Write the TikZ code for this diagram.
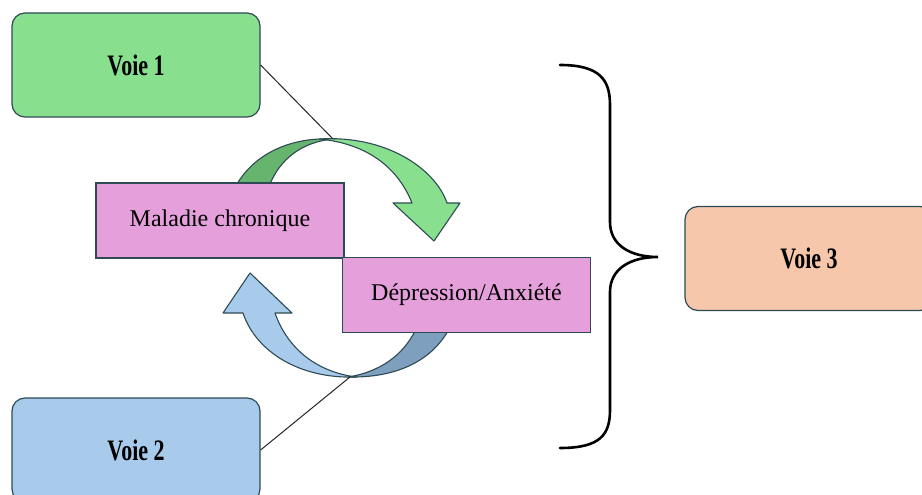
\documentclass[tikz,border=0pt]{standalone}
\usepackage{fontspec}
\setmainfont{Liberation Serif}
\usepackage{graphicx}
\definecolor{edge}{HTML}{2E4A55}
\definecolor{greenbox}{HTML}{88E08F}
\definecolor{greenback}{HTML}{66B46E}
\definecolor{bluebox}{HTML}{A8CBEB}
\definecolor{blueback}{HTML}{7E9FBE}
\definecolor{pinkbox}{HTML}{E5A0DC}
\definecolor{peachbox}{HTML}{F7C7AB}
\tikzset{
  voie/.style={draw=edge, line width=1.2pt, rounded corners=13pt,
    minimum width=248pt, minimum height=104pt, inner sep=0pt,
    font=\fontsize{22}{26}\selectfont\bfseries},
  etat/.style={draw=edge, line width=1.2pt, fill=pinkbox,
    minimum width=248pt, minimum height=75pt, inner sep=0pt,
    font=\fontsize{24}{28}\selectfont},
  ribbon/.style={draw=edge, line width=1.1pt, line join=round},
  link/.style={draw=black!85, line width=1pt}
}
\newcommand{\tall}[1]{\scalebox{1}[1.35]{#1}}
\begin{document}
\begin{tikzpicture}[x=1pt,y=-1pt]
  \clip (0,0) rectangle (922,495);
  \fill[white] (0,0) rectangle (922,495);

  % green curved arrow: back face, then front face with the head
  \path[ribbon, fill=greenback]
    (237,184) .. controls (256,152) and (293,137) .. (333,139)
    .. controls (301,142) and (280,160) .. (270,184) -- cycle;
  \path[ribbon, fill=greenbox]
    (320,139) .. controls (385,135) and (435,168) .. (447,203)
    -- (460,203) -- (434,241) -- (393,203) -- (412,203)
    .. controls (398,168) and (368,144) .. (320,139) -- cycle;
  \coordinate (gtop) at (333,139);

  % blue curved arrow: back face, then front face with the head
  \path[ribbon, fill=blueback]
    (448,331) .. controls (430,362) and (395,378) .. (348,377)
    .. controls (380,372) and (403,355) .. (415,331) -- cycle;
  \path[ribbon, fill=bluebox]
    (356,377) .. controls (300,379) and (256,352) .. (243,313)
    -- (223,313) -- (250,273) -- (292,313) -- (275,313)
    .. controls (288,350) and (318,372) .. (356,377) -- cycle;
  \coordinate (bbot) at (350,377);

  % the two states
  \node[etat] (mal) at (220,220.5) {Maladie chronique};
  \node[etat] (dep) at (466.5,295) {Dépression/Anxiété};

  % the three pathways
  \node[voie, fill=greenbox] (v1) at (136,65) {\tall{Voie 1}};
  \node[voie, fill=bluebox] (v2) at (136,450) {\tall{Voie 2}};
  \node[voie, fill=peachbox] (v3) at (809,258.5) {\tall{Voie 3}};

  % links from the pathways to the loop
  \draw[link] (v1.east) -- (gtop);
  \draw[link] (v2.east) -- (bbot);

  % brace grouping both pathways
  \coordinate (btop) at (560,65);
  \coordinate (bend) at (560,448);
  \coordinate (btip) at (658,257);
  \draw[line width=2.6pt, line cap=round]
    (btop) .. controls (600,65) and (610,80) .. (610,105)
    -- (610,222) .. controls (610,245) and (630,257) .. (btip)
    .. controls (630,257) and (610,269) .. (610,292)
    -- (610,410) .. controls (610,435) and (600,448) .. (bend);
\end{tikzpicture}
\end{document}
